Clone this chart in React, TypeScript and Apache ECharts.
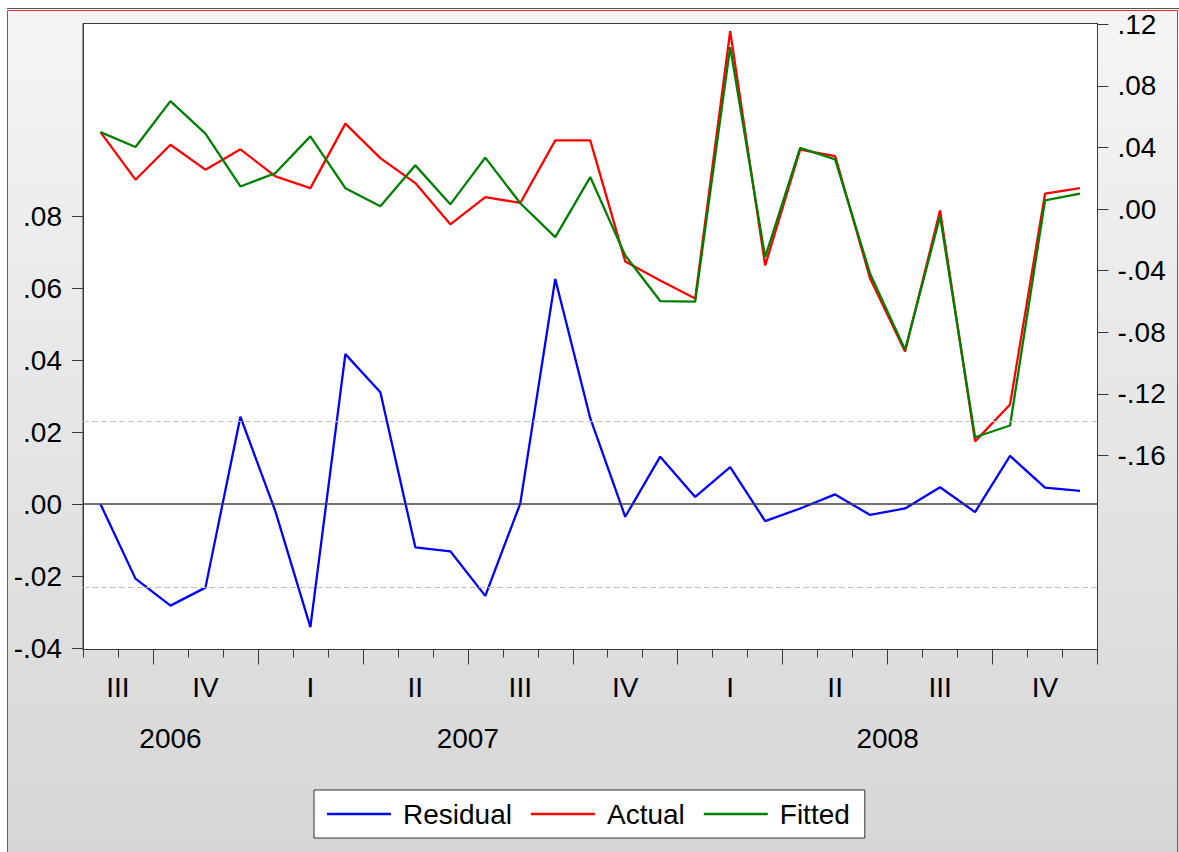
import React, { useEffect, useRef } from 'react';
import * as echarts from 'echarts';

// Monthly observations, Aug 2006 - Dec 2008
const months = [
  '2006-08', '2006-09', '2006-10', '2006-11', '2006-12',
  '2007-01', '2007-02', '2007-03', '2007-04', '2007-05', '2007-06',
  '2007-07', '2007-08', '2007-09', '2007-10', '2007-11', '2007-12',
  '2008-01', '2008-02', '2008-03', '2008-04', '2008-05', '2008-06',
  '2008-07', '2008-08', '2008-09', '2008-10', '2008-11', '2008-12',
];

// Left axis
const residual = [
  0.0, -0.0207, -0.0282, -0.0232, 0.0243, -0.0020, -0.0342, 0.0417, 0.0311,
  -0.0120, -0.0131, -0.0255, 0.0002, 0.0626, 0.0239, -0.0035, 0.0132, 0.0020,
  0.0103, -0.0047, -0.0012, 0.0027, -0.0030, -0.0012, 0.0047, -0.0022, 0.0134,
  0.0046, 0.0037,
];

// Right axis
const actual = [
  0.0500, 0.0191, 0.0418, 0.0256, 0.0388, 0.0212, 0.0136, 0.0555, 0.0331,
  0.0169, -0.0099, 0.0078, 0.0040, 0.0446, 0.0446, -0.0340, -0.0464, -0.0580,
  0.1156, -0.0366, 0.0386, 0.0344, -0.0450, -0.0925, -0.0008, -0.1508, -0.1268,
  0.0100, 0.0136,
];
const fitted = [
  0.0500, 0.0403, 0.0701, 0.0490, 0.0147, 0.0234, 0.0472, 0.0136, 0.0019,
  0.0284, 0.0031, 0.0334, 0.0038, -0.0182, 0.0208, -0.0301, -0.0597, -0.0600,
  0.1052, -0.0312, 0.0397, 0.0323, -0.0420, -0.0913, -0.0047, -0.1481, -0.1405,
  0.0056, 0.0100,
];

const residualSE = 0.0231;

const leftTicks = [-0.04, -0.02, 0.0, 0.02, 0.04, 0.06, 0.08];
const rightTicks = [-0.16, -0.12, -0.08, -0.04, 0.0, 0.04, 0.08, 0.12];
const quarterNames = ['I', 'II', 'III', 'IV'];

const FONT = "'Liberation Sans', Arial, Helvetica, sans-serif";
const AXIS_COLOR = '#3a3a3a';

const fmt = (v: number) => {
  const r = Math.round(v * 100) / 100;
  const s = Math.abs(r).toFixed(2).replace(/^0/, '');
  return (r < 0 ? '-' : '') + s;
};

// Build quarter and year groups from the month list
function groups(keyOf: (m: string) => string, labelOf: (m: string) => string) {
  const out: { pos: number; label: string }[] = [];
  let start = 0;
  for (let i = 1; i <= months.length; i++) {
    if (i === months.length || keyOf(months[i]) !== keyOf(months[start])) {
      out.push({ pos: (start + i) / 2, label: labelOf(months[start]) });
      start = i;
    }
  }
  return out;
}
const monthOf = (m: string) => parseInt(m.slice(5), 10);
const quarterOf = (m: string) => Math.ceil(monthOf(m) / 3);
const quarterGroups = groups(
  (m) => m.slice(0, 4) + 'Q' + quarterOf(m),
  (m) => quarterNames[quarterOf(m) - 1]
);
const yearGroups = groups((m) => m.slice(0, 4), (m) => m.slice(0, 4));
const key = (v: number) => v.toFixed(2);
const qMap = new Map(quarterGroups.map((g) => [key(g.pos), g.label]));
const yMap = new Map(yearGroups.map((g) => [key(g.pos), g.label]));

export default function App() {
  const ref = useRef<HTMLDivElement>(null);
  useEffect(() => {
    if (!ref.current) return;
    const chart = echarts.init(ref.current, undefined, { renderer: 'svg' });
    const labelText = { color: '#000', fontFamily: FONT, fontSize: 28 };
    const option: any = {
      animation: false,
      backgroundColor: '#ffffff',
      graphic: [
        {
          type: 'rect',
          z: -10,
          silent: true,
          shape: { x: 7, y: 10, width: 1172, height: 842 },
          style: {
            fill: {
              type: 'linear', x: 0, y: 0, x2: 0, y2: 1,
              colorStops: [
                { offset: 0, color: '#f5f5f5' },
                { offset: 1, color: '#d6d6d6' },
              ],
            },
          },
        },
        {
          type: 'line',
          silent: true,
          shape: { x1: 7, y1: 8.5, x2: 1179, y2: 8.5 },
          style: { stroke: '#555', lineWidth: 1 },
        },
        {
          type: 'polyline',
          silent: true,
          shape: { points: [[7.5, 852], [7.5, 10.5], [1177.5, 10.5], [1177.5, 852]] },
          style: { stroke: '#ff2020', lineWidth: 1, fill: null },
        },
      ],
      grid: {
        left: 83,
        right: 81.5,
        top: 23.5,
        bottom: 202.5,
        show: true,
        backgroundColor: '#ffffff',
        borderColor: AXIS_COLOR,
        borderWidth: 1,
      },
      legend: {
        left: 314,
        top: 790,
        data: ['Residual', 'Actual', 'Fitted'],
        icon: 'rect',
        itemWidth: 64,
        itemHeight: 2.5,
        itemGap: 19,
        padding: [9, 15, 9, 13],
        backgroundColor: '#ffffff',
        borderColor: '#333',
        borderWidth: 1,
        borderRadius: 0,
        textStyle: { ...labelText, lineHeight: 30, padding: [0, 0, 0, 7] },
      },
      xAxis: [
        {
          type: 'category',
          data: months,
          position: 'bottom',
          boundaryGap: true,
          axisLine: { show: true, onZero: false, lineStyle: { color: AXIS_COLOR } },
          axisTick: { show: true, interval: 0, length: 8, lineStyle: { color: AXIS_COLOR } },
          axisLabel: { show: false },
          splitLine: { show: false },
        },
        {
          type: 'category',
          data: months,
          position: 'bottom',
          boundaryGap: true,
          axisLine: { show: false, onZero: false },
          axisTick: {
            show: true,
            interval: (i: number) => (monthOf(months[i]) - 1) % 3 === 0,
            length: 15,
            lineStyle: { color: AXIS_COLOR },
          },
          axisLabel: { show: false },
          splitLine: { show: false },
        },
        {
          type: 'value',
          min: 0,
          max: months.length,
          position: 'bottom',
          axisLine: { show: false, onZero: false },
          axisTick: { show: false },
          splitLine: { show: false },
          axisLabel: {
            ...labelText,
            lineHeight: 32,
            margin: 21.5,
            customValues: quarterGroups.map((g) => g.pos),
            formatter: (v: number) => qMap.get(key(v)) || '',
          },
        },
        {
          type: 'value',
          min: 0,
          max: months.length,
          position: 'bottom',
          axisLine: { show: false, onZero: false },
          axisTick: { show: false },
          splitLine: { show: false },
          axisLabel: {
            ...labelText,
            lineHeight: 32,
            margin: 73,
            customValues: yearGroups.map((g) => g.pos),
            formatter: (v: number) => yMap.get(key(v)) || '',
          },
        },
      ],
      yAxis: [
        {
          type: 'value',
          position: 'left',
          min: -0.0404,
          max: 0.1336,
          axisLine: { show: true, onZero: false, lineStyle: { color: AXIS_COLOR } },
          axisTick: { show: true, length: 11, customValues: leftTicks, lineStyle: { color: AXIS_COLOR } },
          axisLabel: { ...labelText, margin: 21, customValues: leftTicks, formatter: fmt },
          splitLine: { show: false },
        },
        {
          type: 'value',
          position: 'right',
          min: -0.2859,
          max: 0.1205,
          axisLine: { show: true, onZero: false, lineStyle: { color: AXIS_COLOR } },
          axisTick: { show: true, length: 11, customValues: rightTicks, lineStyle: { color: AXIS_COLOR } },
          axisLabel: { ...labelText, margin: 20, customValues: rightTicks, formatter: fmt },
          splitLine: { show: false },
        },
      ],
      series: [
        {
          name: 'Residual',
          type: 'line',
          xAxisIndex: 0,
          yAxisIndex: 0,
          data: residual,
          symbol: 'none',
          color: '#0000ff',
          lineStyle: { color: '#0000ff', width: 2.3 },
          markLine: {
            silent: true,
            precision: 6,
            symbol: ['none', 'none'],
            label: { show: false },
            data: [
              { yAxis: 0, lineStyle: { color: '#404040', type: 'solid', width: 1.5 } },
              { yAxis: residualSE, lineStyle: { color: '#c4c4c4', type: [6, 3], width: 1 } },
              { yAxis: -residualSE, lineStyle: { color: '#c4c4c4', type: [6, 3], width: 1 } },
            ],
          },
        },
        {
          name: 'Actual',
          type: 'line',
          xAxisIndex: 0,
          yAxisIndex: 1,
          data: actual,
          symbol: 'none',
          color: '#ff0000',
          lineStyle: { color: '#ff0000', width: 2.3 },
        },
        {
          name: 'Fitted',
          type: 'line',
          xAxisIndex: 0,
          yAxisIndex: 1,
          data: fitted,
          symbol: 'none',
          color: '#008000',
          lineStyle: { color: '#008000', width: 2.3 },
        },
      ],
    };
    chart.setOption(option);
    return () => chart.dispose();
  }, []);
  return (
    <div
      ref={ref}
      style={{ position: 'absolute', left: 0, top: 0, width: 1179, height: 852 }}
    />
  );
}
